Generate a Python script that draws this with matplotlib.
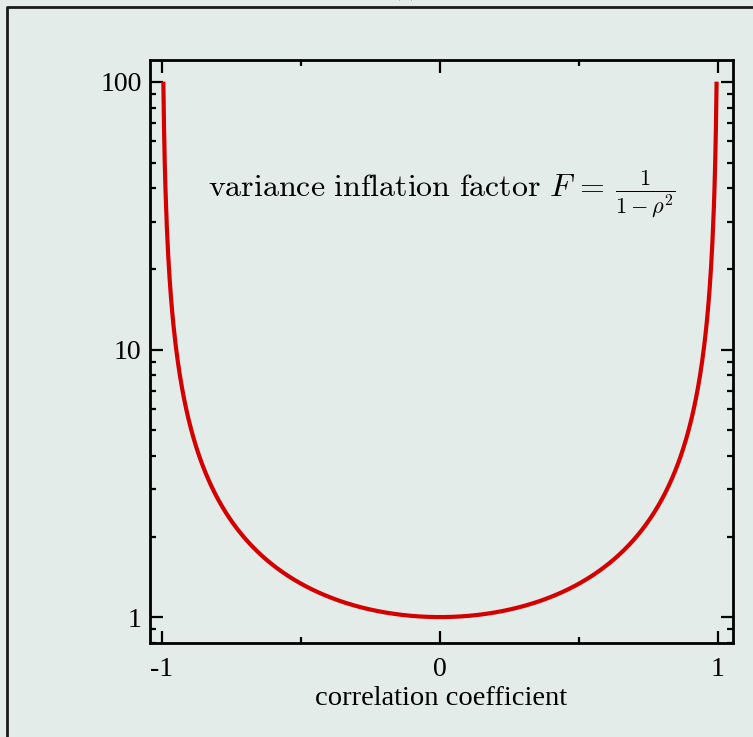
import matplotlib
matplotlib.use("Agg")
import matplotlib.pyplot as plt
import numpy as np
from matplotlib.lines import Line2D
from matplotlib.ticker import FixedLocator, NullFormatter, LogLocator

# correlation coefficient grid, curve is the annotated F = 1/(1-rho^2)
rho_limit = 0.995
rho = np.linspace(-rho_limit, rho_limit, 801)
vif = 1.0 / (1.0 - rho ** 2)

x_ticks = [-1, 0, 1]
x_ticklabels = ["-1", "0", "1"]
x_minor = [-0.5, 0.5]
y_ticks = [1, 10, 100]
y_ticklabels = ["1", "10", "100"]

bg = "#e3ece8"
plt.rcParams["font.family"] = ["Liberation Serif", "DejaVu Serif"]
plt.rcParams["mathtext.fontset"] = "cm"

fig = plt.figure(figsize=(7.53, 7.37), dpi=100, facecolor=bg)
ax = fig.add_axes([150 / 753, 1 - 643 / 737, 583 / 753, 583 / 737])
ax.set_facecolor(bg)

ax.plot(rho, vif, color="#d40000", lw=3.0, solid_capstyle="butt")

ax.set_yscale("log")
ax.set_xlim(-1.043, 1.054)
ax.set_ylim(0.80, 120.8)

ax.xaxis.set_major_locator(FixedLocator(x_ticks))
ax.set_xticklabels(x_ticklabels)
ax.xaxis.set_minor_locator(FixedLocator(x_minor))
ax.yaxis.set_major_locator(FixedLocator(y_ticks))
ax.set_yticklabels(y_ticklabels)
ax.yaxis.set_minor_locator(LogLocator(base=10, subs=np.arange(2, 10)))
ax.yaxis.set_minor_formatter(NullFormatter())

ax.tick_params(which="both", direction="in", top=True, right=True,
               width=1.6, labelsize=20, colors="black")
ax.tick_params(which="major", length=9)
ax.tick_params(which="minor", length=4.5)
ax.tick_params(axis="x", which="major", pad=10)
ax.tick_params(axis="y", which="major", pad=6)

for s in ax.spines.values():
    s.set_linewidth(2.0)

ax.set_xlabel("correlation coefficient", fontsize=20.5, labelpad=3)

ax.text(0.5, 0.77,
        r"$\mathrm{variance\ inflation\ factor}\ F\,=\,\frac{1}{1-\rho^2}$",
        transform=ax.transAxes, fontsize=23, ha="center", va="center")

# outer frame of the panel (partly cropped)
fx = 7 / 753
fy = 1 - 7 / 737
fig.add_artist(Line2D([fx, fx, 1.0], [0.0, fy, fy], transform=fig.transFigure,
                      color="#1a1a1a", lw=2.0))
fig.text(405 / 753, 1.0 + 4 / 737, "(a)", fontsize=16, ha="center", va="baseline")

fig.savefig("out.png", dpi=100, facecolor=bg)
